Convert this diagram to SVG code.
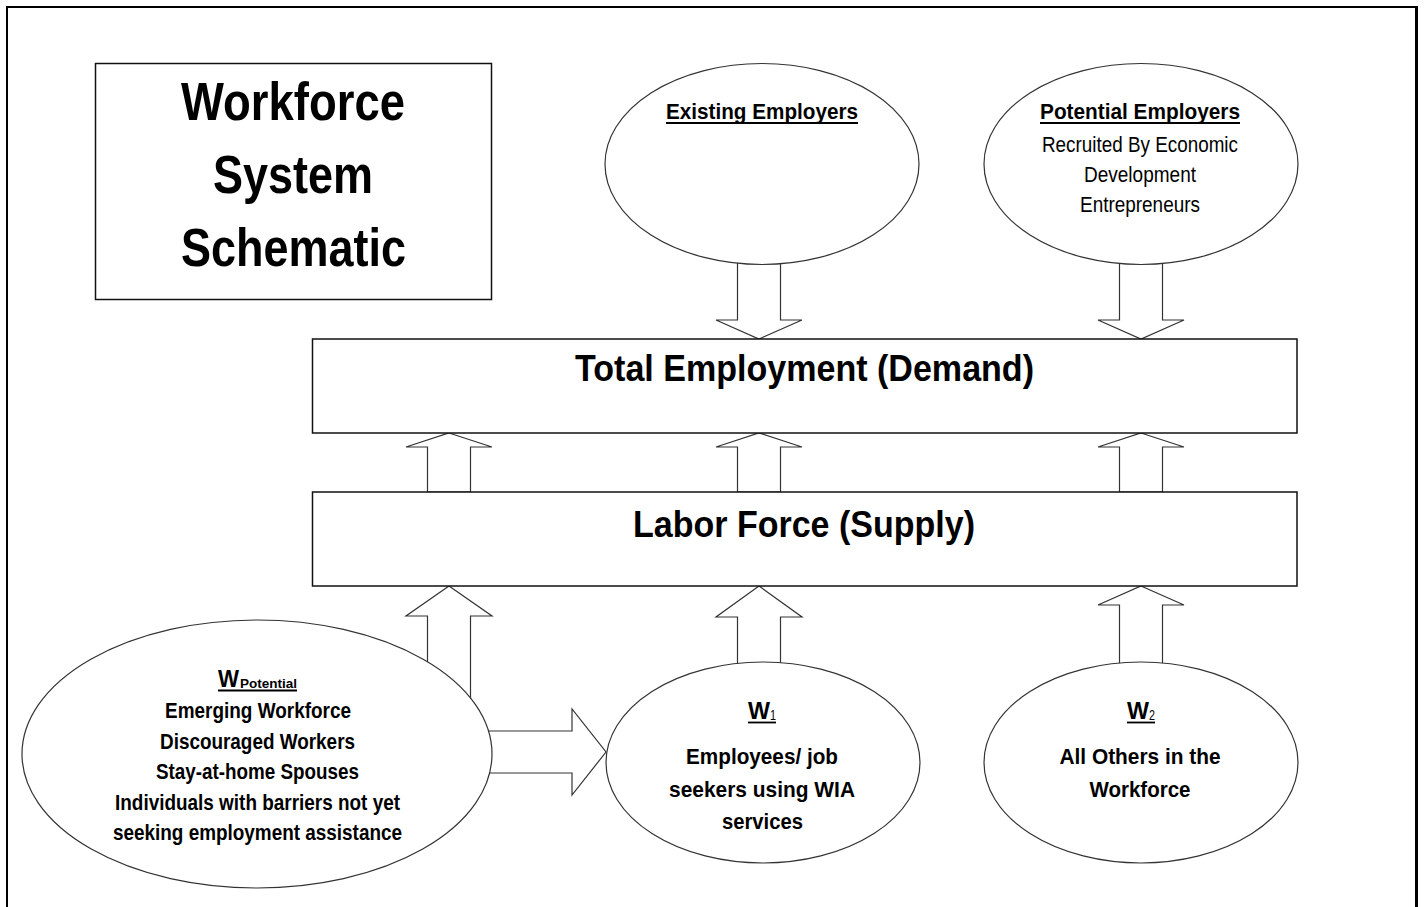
<svg xmlns="http://www.w3.org/2000/svg" width="1424" height="907" viewBox="0 0 1424 907">
  <style>
    .frame { stroke: #000; fill: none; }
    .box { fill: #fff; stroke: #111; stroke-width: 1.5; }
    .oval { fill: #fff; stroke: #333; stroke-width: 1.2; }
    .arrow { fill: #fff; stroke: #333; stroke-width: 1.2; stroke-linejoin: miter; }
    .ul { stroke: #000; stroke-width: 1.8; }
    text { font-family: "Liberation Sans", Arial, Helvetica, sans-serif; fill: #000; }
    .title { font-size: 54px; font-weight: bold; text-anchor: middle; }
    .big { font-size: 37px; font-weight: bold; text-anchor: middle; }
    .head { font-size: 22.5px; font-weight: bold; text-anchor: middle; }
    .body { font-size: 22.5px; text-anchor: middle; }
    .bodyb { font-size: 22.5px; font-weight: bold; text-anchor: middle; }
    .w { font-size: 23px; font-weight: bold; }
    .sub { font-size: 14px; }
  </style>

  <rect width="1424" height="907" fill="#fff"/>

  <!-- page frame (bottom edge runs off the page) -->
  <g id="frame">
    <line class="frame" x1="6" y1="7" x2="1418" y2="7" stroke-width="2"/>
    <line class="frame" x1="7" y1="6" x2="7" y2="907" stroke-width="2"/>
    <line class="frame" x1="1416.5" y1="6" x2="1416.5" y2="907" stroke-width="3"/>
  </g>

  <!-- block arrows -->
  <g id="connectors">
    <!-- employers down into demand -->
    <polygon class="arrow" points="737.5,250 780.5,250 780.5,320 802,320 759,339 716,320 737.5,320"/>
    <polygon class="arrow" points="1119.5,250 1162.5,250 1162.5,320 1184,320 1141,339 1098,320 1119.5,320"/>
    <!-- supply up into demand -->
    <polygon class="arrow" points="449,433 492,447 470.5,447 470.5,492 427.5,492 427.5,447 406,447"/>
    <polygon class="arrow" points="759,433 802,447 780.5,447 780.5,492 737.5,492 737.5,447 716,447"/>
    <polygon class="arrow" points="1141,433 1184,447 1162.5,447 1162.5,492 1119.5,492 1119.5,447 1098,447"/>
    <!-- worker pools up into supply -->
    <polygon class="arrow" points="449,586 492,616 470.5,616 470.5,720 427.5,720 427.5,616 406,616"/>
    <polygon class="arrow" points="759,586 802,617 780.5,617 780.5,680 737.5,680 737.5,617 716,617"/>
    <polygon class="arrow" points="1141,586 1184,605 1162.5,605 1162.5,680 1119.5,680 1119.5,605 1098,605"/>
    <!-- potential pool into W1 -->
    <polygon class="arrow" points="470,731 572,731 572,709 606,752 572,795 572,773 470,773"/>
  </g>

  <g id="title">
    <rect class="box" x="95.5" y="63.5" width="396" height="236"/>
    <text class="title" x="293" y="120" textLength="224" lengthAdjust="spacingAndGlyphs">Workforce</text>
    <text class="title" x="293" y="193" textLength="160" lengthAdjust="spacingAndGlyphs">System</text>
    <text class="title" x="293.5" y="266" textLength="225" lengthAdjust="spacingAndGlyphs">Schematic</text>
  </g>

  <g id="existing-employers">
    <ellipse class="oval" cx="762" cy="164" rx="157" ry="100.5"/>
    <text class="head" x="762" y="119" textLength="192" lengthAdjust="spacingAndGlyphs">Existing Employers</text>
    <line class="ul" x1="666" y1="123" x2="858" y2="123"/>
  </g>

  <g id="potential-employers">
    <ellipse class="oval" cx="1141" cy="164" rx="157" ry="100.5"/>
    <text class="head" x="1140" y="119" textLength="200" lengthAdjust="spacingAndGlyphs">Potential Employers</text>
    <line class="ul" x1="1040" y1="123" x2="1240" y2="123"/>
    <text class="body" x="1140" y="152" textLength="196" lengthAdjust="spacingAndGlyphs">Recruited By Economic</text>
    <text class="body" x="1140" y="182" textLength="112" lengthAdjust="spacingAndGlyphs">Development</text>
    <text class="body" x="1140" y="212" textLength="120" lengthAdjust="spacingAndGlyphs">Entrepreneurs</text>
  </g>

  <g id="total-employment">
    <rect class="box" x="312.5" y="339" width="984.5" height="94"/>
    <text class="big" x="804.5" y="381" textLength="459" lengthAdjust="spacingAndGlyphs">Total Employment (Demand)</text>
  </g>

  <g id="labor-force">
    <rect class="box" x="312.5" y="492" width="984.5" height="94"/>
    <text class="big" x="804" y="537" textLength="342" lengthAdjust="spacingAndGlyphs">Labor Force (Supply)</text>
  </g>

  <g id="w-potential">
    <ellipse class="oval" cx="257" cy="754" rx="235" ry="134"/>
    <text class="w" x="218" y="687" textLength="21" lengthAdjust="spacingAndGlyphs">W</text>
    <text x="240" y="688" font-size="13" font-weight="bold" textLength="57" lengthAdjust="spacingAndGlyphs">Potential</text>
    <line class="ul" x1="218" y1="690.5" x2="297" y2="690.5"/>
    <text class="bodyb" x="258" y="718" textLength="186" lengthAdjust="spacingAndGlyphs">Emerging Workforce</text>
    <text class="bodyb" x="257.5" y="749" textLength="195" lengthAdjust="spacingAndGlyphs">Discouraged Workers</text>
    <text class="bodyb" x="257.5" y="779" textLength="203" lengthAdjust="spacingAndGlyphs">Stay-at-home Spouses</text>
    <text class="bodyb" x="257.5" y="810" textLength="285" lengthAdjust="spacingAndGlyphs">Individuals with barriers not yet</text>
    <text class="bodyb" x="257.5" y="840" textLength="289" lengthAdjust="spacingAndGlyphs">seeking employment assistance</text>
  </g>

  <g id="w1">
    <ellipse class="oval" cx="763" cy="762.5" rx="157" ry="100.5"/>
    <text class="w" x="748" y="719" textLength="22" lengthAdjust="spacingAndGlyphs">W</text>
    <text class="sub" x="770" y="720" textLength="6" lengthAdjust="spacingAndGlyphs">1</text>
    <line class="ul" x1="748" y1="722.5" x2="776" y2="722.5"/>
    <text class="bodyb" x="762" y="764" textLength="152" lengthAdjust="spacingAndGlyphs">Employees/ job</text>
    <text class="bodyb" x="762" y="797" textLength="186" lengthAdjust="spacingAndGlyphs">seekers using WIA</text>
    <text class="bodyb" x="762.5" y="829" textLength="81" lengthAdjust="spacingAndGlyphs">services</text>
  </g>

  <g id="w2">
    <ellipse class="oval" cx="1141" cy="762.5" rx="157" ry="100.5"/>
    <text class="w" x="1127" y="719" textLength="22" lengthAdjust="spacingAndGlyphs">W</text>
    <text class="sub" x="1149" y="720" textLength="6" lengthAdjust="spacingAndGlyphs">2</text>
    <line class="ul" x1="1127" y1="722.5" x2="1155" y2="722.5"/>
    <text class="bodyb" x="1140" y="764" textLength="161" lengthAdjust="spacingAndGlyphs">All Others in the</text>
    <text class="bodyb" x="1140" y="797" textLength="101" lengthAdjust="spacingAndGlyphs">Workforce</text>
  </g>
</svg>
